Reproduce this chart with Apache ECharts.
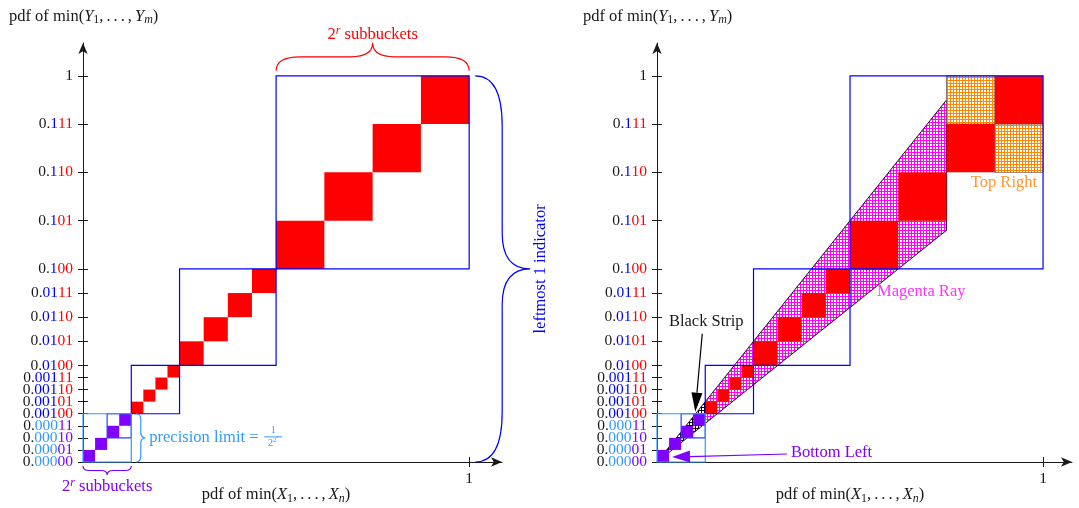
<!DOCTYPE html>
<html><head><meta charset="utf-8">
<script src="https://cdn.jsdelivr.net/npm/echarts@6.0.0/dist/echarts.min.js"></script>
<style>html,body{margin:0;padding:0;background:#fff}#c{width:1079px;height:508px}</style>
</head><body><div id="c"></div>
<script>
// ---------------- data ----------------
const yTickValues = [0, 0.03125, 0.0625, 0.09375, 0.125, 0.15625, 0.1875, 0.21875, 0.25, 0.3125, 0.375, 0.4375, 0.5, 0.625, 0.75, 0.875, 1];
const yTickLabels = ['0.00000','0.00001','0.00010','0.00011','0.00100','0.00101','0.00110','0.00111','0.0100','0.0101','0.0110','0.0111','0.100','0.101','0.110','0.111','1'];
const xTickValues = [1];
const xTickLabels = ['1'];
const subbucketBits = 2; // r
const redSquareStarts = [0.125, 0.15625, 0.1875, 0.21875, 0.25, 0.3125, 0.375, 0.4375, 0.5, 0.625, 0.75, 0.875];
const redSquareSizes  = [0.03125, 0.03125, 0.03125, 0.03125, 0.0625, 0.0625, 0.0625, 0.0625, 0.125, 0.125, 0.125, 0.125];
const purpleSquareStarts = [0, 0.03125, 0.0625, 0.09375];
const purpleSquareSizes  = [0.03125, 0.03125, 0.03125, 0.03125];
const bucketBoxes = [[0.5, 1], [0.25, 0.5], [0.125, 0.25], [0.0625, 0.125]];
const precisionBox = [0, 0.125];
const orangeCells = [[0.75, 0.875, 0.875, 1], [0.875, 0.75, 1, 0.875]];
const rayUpperSlope = 1.25, rayLowerSlope = 0.8, rayEndX = 0.75, blackStripEndX = 0.125;
const yTitleSym = 'Y', yTitleSub = 'm', xTitleSym = 'X', xTitleSub = 'n';

// ---------------- styles ----------------
const FONT = "'Liberation Serif','DejaVu Serif',serif";
const INK = '#1a1a1a', RED = '#ff0000', PURPLE = '#8000ff', BLUE = '#0000ff', BOXBLUE = '#2a3cff',
      LBLUE = '#3399ff', MAGENTA = '#ff00ff', ORANGE = '#ff8800';
const TICK_FS = 15.5, ANNO_FS = 16.5, TITLE_FS = 16.5;

function pattern(color) {
  const c = document.createElement('canvas'); c.width = 3; c.height = 3;
  const g = c.getContext('2d');
  g.fillStyle = color; g.fillRect(0, 0, 3, 3);
  g.fillStyle = '#ffffff'; g.fillRect(0, 0, 2, 2);
  return c;
}
const magPat = pattern(MAGENTA), blkPat = pattern('#000000'), orgPat = pattern(ORANGE);

function fmtY(s) {
  if (s.indexOf('.') < 0) return '{k|' + s + '}';
  const digits = s.slice(2);
  const ind = digits.slice(0, digits.length - subbucketBits);
  const sub = digits.slice(digits.length - subbucketBits);
  const hi = ind.indexOf('1') >= 0;
  return '{k|0.}{' + (hi ? 'bl' : 'lb') + '|' + ind + '}{' + (hi ? 'rd' : 'pu') + '|' + sub + '}';
}
function fmtX(v) {
  const i = xTickValues.findIndex(t => Math.abs(t - v) < 1e-9);
  return i < 0 ? '' : xTickLabels[i];
}
function tickRich() {
  const b = { fontSize: TICK_FS, fontFamily: FONT };
  return { k: { ...b, fill: INK }, bl: { ...b, fill: BLUE }, rd: { ...b, fill: RED },
           lb: { ...b, fill: LBLUE }, pu: { ...b, fill: PURPLE } };
}
function txtRich(size) {
  const b = { fontSize: size, fontFamily: FONT };
  const s = Math.round(size * 0.7);
  return {
    n: { ...b },
    i: { ...b, fontStyle: 'italic' },
    sp: { fontSize: 12, fontFamily: FONT },
    sub: { fontSize: s, fontFamily: FONT, fontStyle: 'italic', padding: [7, 0, 0, 0] },
    subn: { fontSize: s, fontFamily: FONT, padding: [7, 0, 0, 0] },
    sup: { fontSize: s, fontFamily: FONT, fontStyle: 'italic', padding: [0, 0, 8, 0] },
    supn: { fontSize: s, fontFamily: FONT, padding: [0, 0, 8, 0] },
    ssup: { fontSize: Math.round(size * 0.5), fontFamily: FONT, fontStyle: 'italic', padding: [0, 0, 14, 0] }
  };
}

// ---------------- chart ----------------
const chart = echarts.init(document.getElementById('c'), null, { renderer: 'canvas' });
const grids = [{ left: 83, top: 43, width: 419, height: 419 }, { left: 657, top: 43, width: 415, height: 419 }];
const xMax = [1.085, 1.075], yMax = 1.085;

const xAxes = [], yAxes = [];
[0, 1].forEach(g => {
  xAxes.push({ gridIndex: g, type: 'value', min: 0, max: xMax[g], position: 'bottom',
    axisLine: { show: true, onZero: false, symbol: ['none', 'arrow'], symbolSize: [7, 11], lineStyle: { color: INK, width: 1 } },
    axisTick: { show: true, length: 5, customValues: xTickValues, lineStyle: { color: INK, width: 1 } },
    axisLabel: { show: true, customValues: xTickValues, formatter: v => fmtX(v), margin: 9, fontSize: TICK_FS, fontFamily: FONT, color: INK },
    splitLine: { show: false } });
  xAxes.push({ gridIndex: g, type: 'value', min: 0, max: xMax[g], position: 'bottom', axisLine: { show: false },
    axisTick: { show: true, inside: true, length: 5, customValues: xTickValues, lineStyle: { color: INK, width: 1 } },
    axisLabel: { show: false }, splitLine: { show: false } });
  yAxes.push({ gridIndex: g, type: 'value', min: 0, max: yMax, position: 'left',
    axisLine: { show: true, onZero: false, symbol: ['none', 'arrow'], symbolSize: [7, 11], lineStyle: { color: INK, width: 1 } },
    axisTick: { show: true, length: 5, customValues: yTickValues, lineStyle: { color: INK, width: 1 } },
    axisLabel: { show: false },
    splitLine: { show: false } });
  yAxes.push({ gridIndex: g, type: 'value', min: 0, max: yMax, position: 'left', axisLine: { show: false },
    axisTick: { show: true, inside: true, length: 5, customValues: yTickValues, lineStyle: { color: INK, width: 1 } },
    axisLabel: { show: false }, splitLine: { show: false } });
});

function rectSeries(g, data, style, z) {
  return { type: 'custom', xAxisIndex: g * 2, yAxisIndex: g * 2, clip: false, silent: true, z, animation: false,
    data, renderItem: (p, api) => {
      const a = api.coord([api.value(0), api.value(1)]);
      const b = api.coord([api.value(2), api.value(3)]);
      return { type: 'rect', shape: { x: Math.min(a[0], b[0]), y: Math.min(a[1], b[1]), width: Math.abs(b[0] - a[0]), height: Math.abs(b[1] - a[1]) },
        style: typeof style === 'function' ? style(p.dataIndex) : style };
    } };
}

const redData = redSquareStarts.map((s, i) => [s, s, s + redSquareSizes[i], s + redSquareSizes[i]]);
const purpleData = purpleSquareStarts.map((s, i) => [s, s, s + purpleSquareSizes[i], s + purpleSquareSizes[i]]);
const boxData = bucketBoxes.map(b => [b[0], b[0], b[1], b[1]]);
const precData = [[precisionBox[0], precisionBox[0], precisionBox[1], precisionBox[1]]];

function bracePath(p1, p2, amp, h, c, c2) {
  const dx = p2[0] - p1[0], dy = p2[1] - p1[1], L = Math.hypot(dx, dy);
  const ux = dx / L, uy = dy / L, nx = uy, ny = -ux;
  const P = (u, v) => (p1[0] + ux * u + nx * v).toFixed(2) + ' ' + (p1[1] + uy * u + ny * v).toFixed(2);
  const m = L / 2;
  return 'M' + P(0, 0) + ' Q' + P(0, h) + ' ' + P(c, h) + ' L' + P(m - c2, h) + ' Q' + P(m, h) + ' ' + P(m, amp) +
         ' Q' + P(m, h) + ' ' + P(m + c2, h) + ' L' + P(L - c, h) + ' Q' + P(L, h) + ' ' + P(L, 0);
}
function brace(p1, p2, amp, h, c, c2, color) {
  return { type: 'path', shape: { pathData: bracePath(p1, p2, amp, h, c, c2) }, style: { fill: null, stroke: color, lineWidth: 1.2 } };
}
function text(x, y, str, color, align, size, rot, rich) {
  return { type: 'text', x, y, rotation: rot || 0,
    style: { text: str, fill: color, align: align, verticalAlign: 'middle', fontSize: size, fontFamily: FONT, rich: rich || txtRich(size) } };
}
function arrow(from, to, color, headLen, headW) {
  const dx = to[0] - from[0], dy = to[1] - from[1], L = Math.hypot(dx, dy), ux = dx / L, uy = dy / L;
  const base = [to[0] - ux * headLen, to[1] - uy * headLen];
  return [
    { type: 'line', shape: { x1: from[0], y1: from[1], x2: base[0], y2: base[1] }, style: { stroke: color, lineWidth: 1.2 } },
    { type: 'polygon', shape: { points: [to, [base[0] + uy * headW / 2, base[1] - ux * headW / 2], [base[0] - uy * headW / 2, base[1] + ux * headW / 2]] }, style: { fill: color } }
  ];
}
const add = (p, dx, dy) => [p[0] + dx, p[1] + dy];
const DOTS = '{n|,}{sp| }{n|.}{sp| }{n|.}{sp| }{n|.}{sp| }{n|,}{sp| }';

function common(api, kids) {
  const c = (x, y) => api.coord([x, y]);
  const rich = tickRich();
  yTickValues.forEach((v, i) => {
    const p = add(c(0, v), -10, 0);
    kids.push(text(p[0], p[1], fmtY(yTickLabels[i]), INK, 'right', TICK_FS, 0, rich));
  });
  const ty = add(c(0, 1), -74, -59);
  kids.push(text(ty[0], ty[1], '{n|pdf of min(}{i|' + yTitleSym + '}{subn|1}' + DOTS + '{i|' + yTitleSym + '}{sub|' + yTitleSub + '}{n|)}', INK, 'left', TITLE_FS));
  const tx = add(c(0.5, 0), 0, 33);
  kids.push(text(tx[0], tx[1], '{n|pdf of min(}{i|' + xTitleSym + '}{subn|1}' + DOTS + '{i|' + xTitleSym + '}{sub|' + xTitleSub + '}{n|)}', INK, 'center', TITLE_FS));
}

function leftAnno(p, api) {
  const c = (x, y) => api.coord([x, y]);
  const kids = [];
  common(api, kids);
  const rb1 = add(c(0.5, 1), 0, -5), rb2 = add(c(1, 1), 0, -5);
  kids.push(brace(rb1, rb2, 28, 14, 24, 22, RED));
  kids.push(text((rb1[0] + rb2[0]) / 2, rb1[1] - 36, '{n|2}{sup|r}{n| subbuckets}', RED, 'center', ANNO_FS));
  const bb1 = add(c(1, 1), 6, 0), bb2 = add(c(1, 0), 6, 0);
  kids.push(brace(bb1, bb2, 55, 27, 50, 36, BLUE));
  kids.push(text(bb1[0] + 65, (bb1[1] + bb2[1]) / 2, 'leftmost 1 indicator', BLUE, 'center', ANNO_FS, Math.PI / 2));
  const pb1 = add(c(precisionBox[1], 0), 0, 4), pb2 = add(c(precisionBox[0], 0), 0, 4);
  kids.push(brace(pb1, pb2, 9, 4.5, 6, 6, PURPLE));
  kids.push(text((pb1[0] + pb2[0]) / 2, pb1[1] + 21, '{n|2}{sup|r}{n| subbuckets}', PURPLE, 'center', ANNO_FS));
  const lb1 = add(c(precisionBox[1], precisionBox[1]), 5, 0), lb2 = add(c(precisionBox[1], 0), 5, 0);
  kids.push(brace(lb1, lb2, 9, 4.5, 6, 6, LBLUE));
  const lt = [lb1[0] + 13, (lb1[1] + lb2[1]) / 2];
  kids.push(text(lt[0], lt[1], 'precision limit =', LBLUE, 'left', ANNO_FS));
  const fx = lt[0] + 124;
  kids.push(text(fx, lt[1] - 7, '1', LBLUE, 'center', 10));
  kids.push({ type: 'line', shape: { x1: fx - 9, y1: lt[1] - 1, x2: fx + 9, y2: lt[1] - 1 }, style: { stroke: LBLUE, lineWidth: 1 } });
  kids.push(text(fx, lt[1] + 6, '{n|2}{supn|2}{ssup|r}', LBLUE, 'center', 10));
  return { type: 'group', children: kids };
}

function rightAnno(p, api) {
  const c = (x, y) => api.coord([x, y]);
  const kids = [];
  common(api, kids);
  const tr = add(c(1, 0.75), -6, 10.5);
  kids.push(text(tr[0], tr[1], 'Top Right', '#ff9933', 'right', ANNO_FS));
  const mr = add(c(0.5, 0.5), 27, 23);
  kids.push(text(mr[0], mr[1], 'Magenta Ray', '#ff33ff', 'left', ANNO_FS));
  const a = c(blackStripEndX, blackStripEndX);
  kids.push(text(a[0] + 1, a[1] - 92, 'Black Strip', INK, 'center', ANNO_FS));
  arrow(add(a, -3, -80), add(a, -10, -2), '#000000', 19, 11).forEach(k => kids.push(k));
  const o = c(0, 0);
  kids.push(text(o[0] + 134, o[1] - 9, 'Bottom Left', PURPLE, 'left', ANNO_FS));
  arrow(add(o, 130, -8), add(o, 15, -5), PURPLE, 18, 12).forEach(k => kids.push(k));
  return { type: 'group', children: kids };
}

const bandData = [[0, blackStripEndX, 0], [blackStripEndX, rayEndX, 1]];

const series = [];
[0, 1].forEach(g => {
  if (g === 1) {
    series.push({ type: 'custom', xAxisIndex: 2, yAxisIndex: 2, clip: false, silent: true, z: 2, animation: false,
      data: bandData, renderItem: (p, api) => {
        const x0 = api.value(0), x1 = api.value(1);
        const pts = [[x0, rayUpperSlope * x0], [x1, rayUpperSlope * x1], [x1, rayLowerSlope * x1], [x0, rayLowerSlope * x0]].map(q => api.coord(q));
        return { type: 'polygon', shape: { points: pts }, style: { fill: { image: api.value(2) ? magPat : blkPat, repeat: 'repeat' }, stroke: null } };
      } });
    series.push({ type: 'custom', xAxisIndex: 2, yAxisIndex: 2, clip: false, silent: true, z: 3, animation: false,
      data: [[0]], renderItem: (p, api) => {
        const pts = [[0, 0], [rayEndX, rayUpperSlope * rayEndX], [rayEndX, rayLowerSlope * rayEndX], [0, 0]].map(q => api.coord(q));
        return { type: 'polyline', shape: { points: pts }, style: { fill: null, stroke: '#2a0030', lineWidth: 1 } };
      } });
    series.push(rectSeries(1, orangeCells, { fill: { image: orgPat, repeat: 'repeat' }, stroke: '#6b5a4a', lineWidth: 0.8 }, 3));
  }
  series.push(rectSeries(g, redData, { fill: RED, stroke: null }, 4));
  series.push(rectSeries(g, purpleData, { fill: PURPLE, stroke: null }, 4));
  series.push(rectSeries(g, boxData, i => ({ fill: null, stroke: i === 3 ? BOXBLUE : BLUE, lineWidth: 1.2 }), 5));
  series.push(rectSeries(g, precData, { fill: null, stroke: LBLUE, lineWidth: 1.2 }, 5));
  series.push({ type: 'custom', xAxisIndex: g * 2, yAxisIndex: g * 2, clip: false, silent: true, z: 6, animation: false,
    data: [[0]], renderItem: g === 0 ? leftAnno : rightAnno });
});

chart.setOption({
  animation: false,
  backgroundColor: '#ffffff',
  grid: grids,
  xAxis: xAxes,
  yAxis: yAxes,
  series
});
</script>
</body></html>
